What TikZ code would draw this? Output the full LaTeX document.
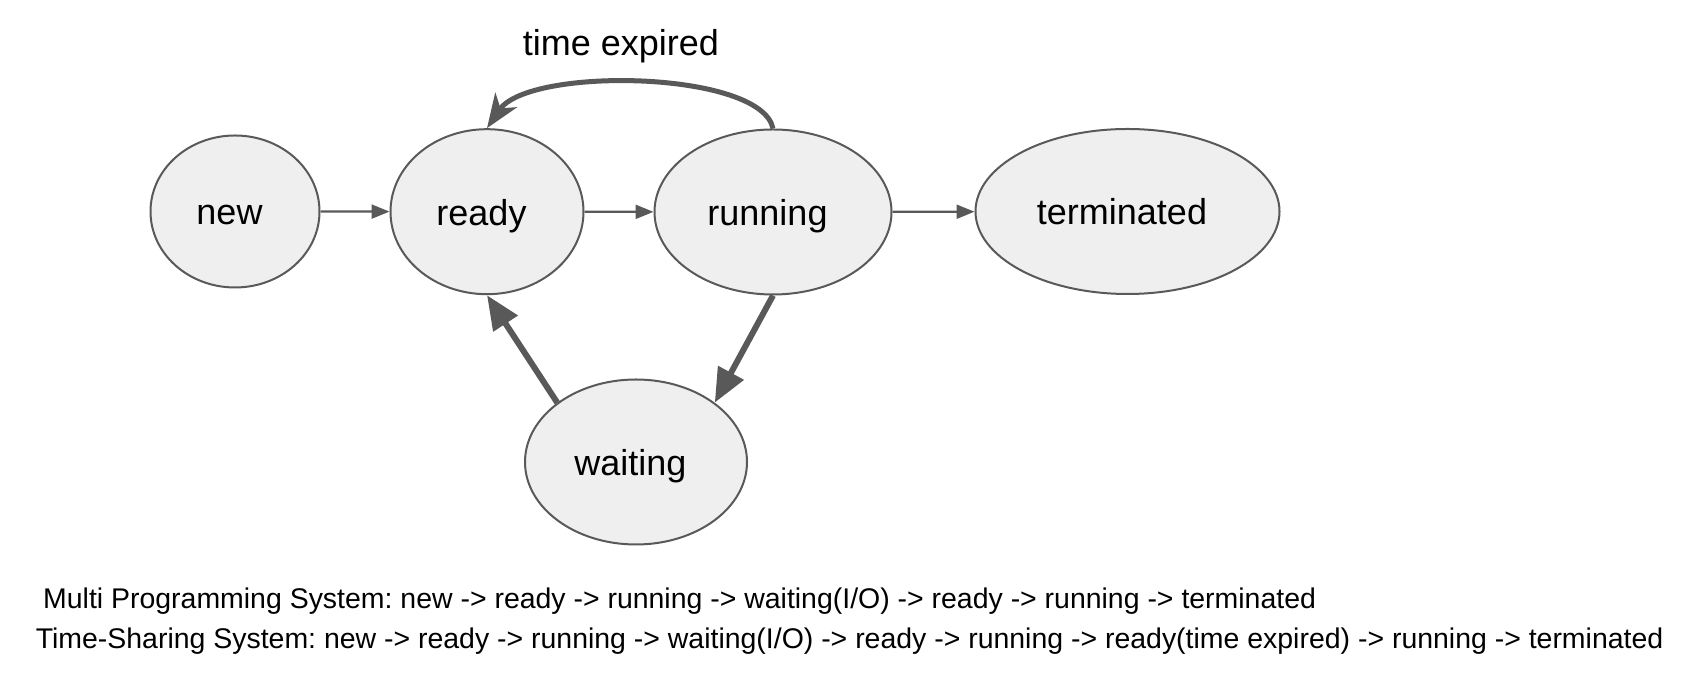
\documentclass[tikz,border=0pt]{standalone}
\usepackage{fontspec}
\setmainfont{Liberation Sans}
\usetikzlibrary{shapes.geometric,arrows.meta}
\definecolor{edgegray}{HTML}{595959}
\definecolor{nodefill}{HTML}{EFEFEF}
\newcommand{\labelnudge}{\hspace*{-11pt}}
\begin{document}
\frenchspacing
\begin{tikzpicture}[x=1pt,y=1pt,
  state/.style={ellipse, draw=edgegray, line width=2pt, fill=nodefill, inner sep=0pt,
    font=\fontsize{36}{43}\selectfont, text height=27pt, text depth=0pt},
  thinarrow/.style={draw=edgegray, line width=2.2pt, -{Triangle[length=18pt,width=14pt]}},
  thickarrow/.style={draw=edgegray, line width=6pt, -{Triangle[length=34pt,width=28pt]}},
  curvearrow/.style={draw=edgegray, line width=5pt, -{Stealth[length=34pt,width=26pt,inset=10pt]}},
  bigtext/.style={font=\fontsize{36}{43}\selectfont, inner sep=0pt},
  smalltext/.style={font=\fontsize{28.45}{34}\selectfont, inner sep=0pt, anchor=base west}
]
\path[use as bounding box] (0,0) rectangle (1690,684);

\node[state, minimum width=169pt, minimum height=152pt] (new) at (235,472.5) {\labelnudge new};
\node[state, minimum width=193pt, minimum height=165pt] (ready) at (487,472.3) {\labelnudge ready};
\node[state, minimum width=237pt, minimum height=165pt] (run) at (773,472) {\labelnudge running};
\node[state, minimum width=304pt, minimum height=165pt] (term) at (1127.5,472.5) {\labelnudge terminated};
\node[state, minimum width=222pt, minimum height=165pt] (wait) at (636,222) {\labelnudge waiting};

\draw[thinarrow] (new) -- (ready);
\draw[thinarrow] (ready) -- (run);
\draw[thinarrow] (run) -- (term);
\draw[thickarrow] (run.south) -- (wait.37);
\draw[thickarrow] (wait.143) -- (ready.south);
\draw[curvearrow] (run.north) .. controls +(-12,58) and +(42,62) .. (ready.north);

\node[bigtext] (te) at (621,638) {time expired};
\node[smalltext] (l1) at (43,75) {Multi Programming System: new -> ready -> running -> waiting(I/O) -> ready -> running -> terminated};
\node[smalltext] (l2) at (35.6,35) {Time-Sharing System: new -> ready -> running -> waiting(I/O) -> ready -> running -> ready(time expired) -> running -> terminated};
\end{tikzpicture}
\end{document}
